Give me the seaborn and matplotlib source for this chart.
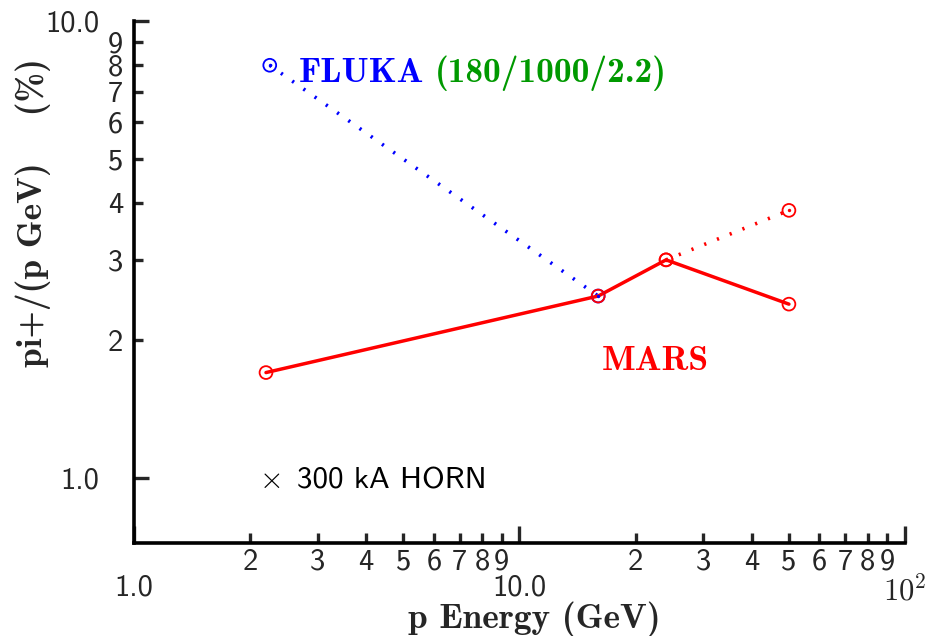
import matplotlib
matplotlib.use("Agg")
import matplotlib.pyplot as plt
import seaborn as sns
import pandas as pd
from matplotlib.ticker import FixedLocator, FixedFormatter

# MARS yields (solid) and the extension to the high-energy point (dotted)
mars_energy = [2.2, 16.0, 24.0, 50.0]
mars_yield = [1.70, 2.50, 3.00, 2.40]
mars_ext_energy = [24.0, 50.0]
mars_ext_yield = [3.00, 3.85]

# FLUKA yields (dotted)
fluka_energy = [2.25, 16.0]
fluka_yield = [8.00, 2.50]

x_major = [1.0, 10.0, 100.0]
x_major_labels = ["1.0", "10.0", r"$\mathsf{10^{2}}$"]
x_minor = [2, 3, 4, 5, 6, 7, 8, 9, 20, 30, 40, 50, 60, 70, 80, 90]
x_minor_labels = ["2", "3", "4", "5", "6", "7", "8", "9"] * 2
y_major = [1.0, 10.0]
y_major_labels = ["1.0", "10.0"]
y_minor = [2, 3, 4, 5, 6, 7, 8, 9]
y_minor_labels = ["2", "3", "4", "5", "6", "7", "8", "9"]

sns.set_style("ticks")
plt.rcParams["mathtext.fontset"] = "cm"
plt.rcParams["axes.unicode_minus"] = False

SANS = ["cmss10", "DejaVu Sans"]
BOLD = ["cmb10", "DejaVu Serif"]
BLUE, RED, GREEN = "#0000ff", "#ff0000", "#009900"

fig = plt.figure(figsize=(9.26, 6.36), dpi=100)
ax = fig.add_axes([0.1447, 0.1462, 0.8326, 0.8208])

mars = pd.DataFrame({"E": mars_energy, "Y": mars_yield})
mars_ext = pd.DataFrame({"E": mars_ext_energy, "Y": mars_ext_yield})
fluka = pd.DataFrame({"E": fluka_energy, "Y": fluka_yield})

dotted = (0, (0.6, 3.2))
sns.lineplot(data=fluka, x="E", y="Y", ax=ax, color=BLUE, lw=2.6,
             linestyle=dotted, dash_capstyle="butt")
sns.lineplot(data=mars_ext, x="E", y="Y", ax=ax, color=RED, lw=2.6,
             linestyle=dotted, dash_capstyle="butt")
sns.lineplot(data=mars, x="E", y="Y", ax=ax, color=RED, lw=2.5)

# open circles at every point, with a small dot at the centre
for df, col in [(fluka, BLUE), (mars, RED), (mars_ext, RED)]:
    sns.scatterplot(data=df, x="E", y="Y", ax=ax, marker="o", s=85,
                    facecolors="none", edgecolors=col, linewidths=1.3, zorder=4)
for df, col in [(fluka, BLUE), (mars_ext, RED)]:
    sns.scatterplot(data=df, x="E", y="Y", ax=ax, marker="o", s=6,
                    color=col, linewidth=0, zorder=5)

ax.set_xscale("log")
ax.set_yscale("log")
ax.set_xlim(1.0, 100.0)
ax.set_ylim(0.72, 10.0)

ax.xaxis.set_major_locator(FixedLocator(x_major))
ax.xaxis.set_major_formatter(FixedFormatter(x_major_labels))
ax.xaxis.set_minor_locator(FixedLocator(x_minor))
ax.xaxis.set_minor_formatter(FixedFormatter(x_minor_labels))
ax.yaxis.set_major_locator(FixedLocator(y_major))
ax.yaxis.set_major_formatter(FixedFormatter(y_major_labels))
ax.yaxis.set_minor_locator(FixedLocator(y_minor))
ax.yaxis.set_minor_formatter(FixedFormatter(y_minor_labels))

for side in ["top", "right"]:
    ax.spines[side].set_visible(False)
for side in ["left", "bottom"]:
    ax.spines[side].set_linewidth(2.6)
    ax.spines[side].set_color("black")

ax.tick_params(axis="x", which="major", direction="in", length=12, width=2.4, pad=22.5, labelsize=22)
ax.tick_params(axis="x", which="minor", direction="in", length=7.5, width=2.4, pad=4, labelsize=22)
ax.tick_params(axis="y", which="major", direction="in", length=11, width=2.4, pad=25, labelsize=22)
ax.tick_params(axis="y", which="minor", direction="in", length=6.5, width=2.4, pad=8, labelsize=22)
for lab in ax.get_xticklabels(which="both") + ax.get_yticklabels(which="both"):
    lab.set_fontfamily(SANS)

ax.set_xlabel("")
ax.set_ylabel("")
fig.text(0.577, 0.0125, "p Energy (GeV)", ha="center", va="baseline",
         fontsize=25.5, fontfamily=BOLD)
fig.text(0.036, 0.665, "pi+/(p GeV)    (%)", ha="center", va="center",
         rotation=90, fontsize=25.5, fontfamily=BOLD)

ax.text(2.67, 7.36, "FLUKA", color=BLUE, fontsize=25.5, fontfamily=BOLD,
        ha="left", va="baseline")
ax.text(6.05, 7.36, "(180/1000/2.2)", color=GREEN, fontsize=25.5, fontfamily=BOLD,
        ha="left", va="baseline")
ax.text(22.5, 1.723, "MARS", color=RED, fontsize=25.5, fontfamily=BOLD,
        ha="center", va="baseline")
ax.text(2.25, 0.99, r"$\times$", color="black", fontsize=22,
        ha="center", va="center")
ax.text(2.65, 0.985, "300 kA HORN", color="black", fontsize=22.3,
        fontfamily=SANS, ha="left", va="center")

fig.savefig("out.png", dpi=100)
